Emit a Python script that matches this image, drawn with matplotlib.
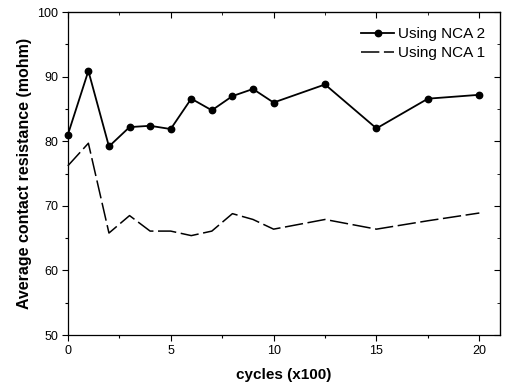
import matplotlib
matplotlib.use('Agg')
import matplotlib.pyplot as plt
from matplotlib.ticker import MultipleLocator

plt.rcParams['font.family'] = ['Liberation Sans', 'DejaVu Sans']

# cycles (x100)
cycles = [0, 1, 2, 3, 4, 5, 6, 7, 8, 9, 10, 12.5, 15, 17.5, 20]
nca2 = [81.0, 90.9, 79.2, 82.2, 82.4, 81.9, 86.6, 84.8, 87.0, 88.1, 86.0, 88.8, 82.0, 86.6, 87.2]
nca1 = [76.2, 79.7, 65.8, 68.5, 66.1, 66.1, 65.4, 66.1, 68.8, 67.9, 66.4, 67.9, 66.4, 67.7, 68.9]

fig = plt.figure(figsize=(5.06, 3.91), dpi=100)
ax = fig.add_axes([0.134, 0.143, 0.854, 0.826])

ax.plot(cycles, nca2, color='black', lw=1.3, marker='o', ms=4.6,
        label='Using NCA 2', clip_on=False, zorder=3)
ax.plot(cycles, nca1, color='black', lw=1.1, dashes=(12, 3),
        label='Using NCA 1', clip_on=False, zorder=3)

ax.set_xlim(0, 21)
ax.set_ylim(50, 100)
ax.xaxis.set_major_locator(MultipleLocator(5))
ax.xaxis.set_minor_locator(MultipleLocator(2.5))
ax.yaxis.set_major_locator(MultipleLocator(10))
ax.yaxis.set_minor_locator(MultipleLocator(5))

ax.tick_params(which='major', direction='out', length=4, width=0.8, labelsize=9, pad=3)
ax.tick_params(which='minor', direction='out', length=2.5, width=0.8)

for side in ('top', 'right', 'left', 'bottom'):
    ax.spines[side].set_linewidth(0.9)

# mirrored ticks on top and right, pointing inward
top = ax.secondary_xaxis('top')
top.xaxis.set_major_locator(MultipleLocator(5))
top.xaxis.set_minor_locator(MultipleLocator(2.5))
top.tick_params(which='both', direction='in', labeltop=False)
top.tick_params(which='major', length=4)
top.tick_params(which='minor', length=2.5)
right = ax.secondary_yaxis('right')
right.yaxis.set_major_locator(MultipleLocator(10))
right.yaxis.set_minor_locator(MultipleLocator(5))
right.tick_params(which='both', direction='in', labelright=False)
right.tick_params(which='major', length=4)
right.tick_params(which='minor', length=2.5)

ax.set_xlabel('cycles (x100)', fontsize=11, fontweight='bold', labelpad=8)
ax.set_ylabel('Average contact resistance (mohm)', fontsize=11.5, fontweight='bold', labelpad=4)

ax.legend(loc='upper right', frameon=False, fontsize=11, handlelength=2.2,
          handletextpad=0.2, labelspacing=0.3, borderaxespad=0.6)

fig.savefig('out.png', dpi=100)
